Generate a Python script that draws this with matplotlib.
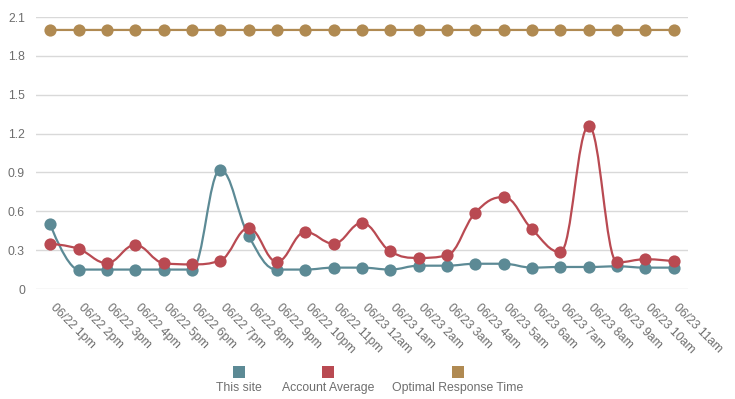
import matplotlib
matplotlib.use("Agg")
import matplotlib.pyplot as plt
import matplotlib.transforms as mtransforms
from matplotlib.path import Path
from matplotlib.patches import PathPatch, Rectangle

categories = ["06/22 1pm", "06/22 2pm", "06/22 3pm", "06/22 4pm", "06/22 5pm", "06/22 6pm",
              "06/22 7pm", "06/22 8pm", "06/22 9pm", "06/22 10pm", "06/22 11pm", "06/23 12am",
              "06/23 1am", "06/23 2am", "06/23 3am", "06/23 4am", "06/23 5am", "06/23 6am",
              "06/23 7am", "06/23 8am", "06/23 9am", "06/23 10am", "06/23 11am"]
this_site = [0.50, 0.15, 0.15, 0.15, 0.15, 0.15, 0.92, 0.41, 0.15, 0.15, 0.165, 0.165,
             0.15, 0.18, 0.18, 0.195, 0.195, 0.165, 0.17, 0.17, 0.175, 0.165, 0.165]
account_avg = [0.35, 0.31, 0.20, 0.34, 0.20, 0.19, 0.22, 0.47, 0.21, 0.44, 0.35, 0.51,
               0.29, 0.24, 0.26, 0.59, 0.71, 0.46, 0.285, 1.26, 0.205, 0.23, 0.215]
optimal = [2.0] * 23
yticks = [0, 0.3, 0.6, 0.9, 1.2, 1.5, 1.8, 2.1]
series_names = ["This site", "Account Average", "Optimal Response Time"]
colors = ["#5c8a95", "#b94a52", "#b08a52"]
TEXT = "#6e6e6e"
GRID = "#d9d9d9"


def spline_path(xs, ys, smoothing=1.5):
    # bezier spline through the points, same idea as the highcharts "spline" type
    denom = smoothing + 1
    n = len(xs)
    left = [None] * n
    right = [None] * n
    for i in range(1, n - 1):
        px, py = xs[i], ys[i]
        lx, ly = xs[i - 1], ys[i - 1]
        nx, ny = xs[i + 1], ys[i + 1]
        lcx = (smoothing * px + lx) / denom
        lcy = (smoothing * py + ly) / denom
        rcx = (smoothing * px + nx) / denom
        rcy = (smoothing * py + ny) / denom
        corr = (rcy - lcy) * (rcx - px) / (rcx - lcx) + py - rcy
        lcy += corr
        rcy += corr
        if lcy > ly and lcy > py:
            lcy = max(ly, py)
            rcy = 2 * py - lcy
        elif lcy < ly and lcy < py:
            lcy = min(ly, py)
            rcy = 2 * py - lcy
        if rcy > ny and rcy > py:
            rcy = max(ny, py)
            lcy = 2 * py - rcy
        elif rcy < ny and rcy < py:
            rcy = min(ny, py)
            lcy = 2 * py - rcy
        left[i] = (lcx, lcy)
        right[i] = (rcx, rcy)
    verts = [(xs[0], ys[0])]
    codes = [Path.MOVETO]
    for i in range(1, n):
        c1 = right[i - 1] if right[i - 1] is not None else (xs[i - 1], ys[i - 1])
        c2 = left[i] if left[i] is not None else (xs[i], ys[i])
        verts += [c1, c2, (xs[i], ys[i])]
        codes += [Path.CURVE4] * 3
    return Path(verts, codes)


plt.rcParams['font.family'] = ['Liberation Sans', 'DejaVu Sans']
fig = plt.figure(figsize=(7.35, 3.99), dpi=100)
ax = fig.add_axes([36 / 735, 110 / 399, 652 / 735, 272 / 399])

x = list(range(len(categories)))
for i, vals in enumerate([this_site, account_avg, optimal]):
    ax.add_patch(PathPatch(spline_path(x, vals), facecolor="none", edgecolor=colors[i],
                           lw=1.6, zorder=2 + i, capstyle="round"))
    ax.plot(x, vals, ls="none", marker="o", ms=8.8, color=colors[i], mec="none",
            zorder=2.5 + i, clip_on=False)

ax.set_xlim(-0.5, len(categories) - 0.5)
ax.set_ylim(0, 2.1)
ax.set_yticks(yticks)
ax.set_yticklabels([f"{v:g}" for v in yticks])
ax.set_xticks(x)
ax.set_xticklabels(categories, rotation=-45, ha="left", va="top", rotation_mode="anchor")
ax.tick_params(axis="both", length=0, colors=TEXT, labelsize=8.8)
ax.tick_params(axis="y", pad=8)
ax.tick_params(axis="x", pad=9)
# nudge the slanted labels so they start right under their tick
shift = mtransforms.ScaledTranslation(6 / 100, 0, fig.dpi_scale_trans)
for lbl in ax.get_xticklabels():
    lbl.set_transform(lbl.get_transform() + shift)
ax.grid(axis="y", color=GRID, lw=1)
ax.set_axisbelow(True)
for s in ax.spines.values():
    s.set_visible(False)

# legend: coloured square above each name
leg_x = [239, 328, 458]
for i, name in enumerate(series_names):
    fig.add_artist(Rectangle(((leg_x[i] - 6) / 735, (399 - 378) / 399), 12 / 735, 12 / 399,
                             facecolor=colors[i], edgecolor="none", transform=fig.transFigure))
    fig.text(leg_x[i] / 735, (399 - 388) / 399, name, ha="center", va="center",
             color=TEXT, fontsize=8.8)

fig.savefig("out.png", dpi=100)
